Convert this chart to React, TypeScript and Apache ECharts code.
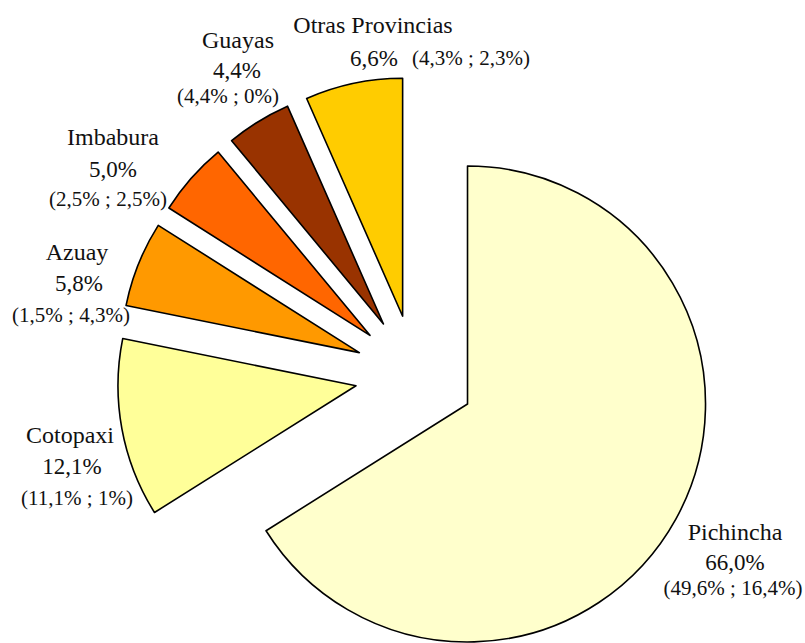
import React, { useEffect, useRef } from "react";
import * as echarts from "echarts";

const categories = ["Pichincha", "Cotopaxi", "Azuay", "Imbabura", "Guayas", "Otras Provincias"];
const shares = [66.0, 12.1, 5.8, 5.0, 4.4, 6.6];
const partA = [49.6, 11.1, 1.5, 2.5, 4.4, 4.3];
const partB = [16.4, 1, 4.3, 2.5, 0, 2.3];
const colors = ["#FFFFCC", "#FFFF99", "#FF9900", "#FF6600", "#993300", "#FFCC00"];

// label line positions (layout only): [nameX, nameY, pctX, pctY, parenX, parenY]
const labelPos: number[][] = [
  [735, 532, 735, 562, 733, 588],
  [70, 435, 72, 466, 77, 498],
  [77, 252, 79, 283, 71, 315],
  [113, 137, 113, 169, 108, 199],
  [238, 40, 237, 70, 228, 96],
  [373, 25, 374, 58, 471, 58],
];

const fmt1 = (v: number) => v.toFixed(1).replace(".", ",");
const fmtP = (v: number) => (Number.isInteger(v) ? String(v) : fmt1(v));

export default function App() {
  const ref = useRef<HTMLDivElement>(null);
  useEffect(() => {
    if (!ref.current) return;
    const chart = echarts.init(ref.current, null, { renderer: "svg" });
    const font = "'Liberation Serif', 'Times New Roman', serif";
    const data = categories.map((name, i) => ({
      name,
      value: shares[i],
      selected: true,
      itemStyle: { color: colors[i] },
    }));
    const texts: any[] = [];
    categories.forEach((name, i) => {
      const [nx, ny, px, py, sx, sy] = labelPos[i];
      const mk = (text: string, x: number, y: number, size: number) => ({
        type: "text",
        x,
        y,
        silent: true,
        style: {
          text,
          fill: "#111",
          font: `${size}px ${font}`,
          textAlign: "center",
          textVerticalAlign: "middle",
        },
      });
      texts.push(mk(name, nx, ny, 24));
      texts.push(mk(`${fmt1(shares[i])}%`, px, py, 23));
      texts.push(mk(`(${fmtP(partA[i])}% ; ${fmtP(partB[i])}%)`, sx, sy, 21));
    });
    chart.setOption({
      animation: false,
      backgroundColor: "#ffffff",
      series: [
        {
          type: "pie",
          center: [415, 375],
          radius: 238,
          startAngle: 90,
          clockwise: true,
          selectedMode: "multiple",
          selectedOffset: 60,
          avoidLabelOverlap: false,
          itemStyle: { borderColor: "#000", borderWidth: 1.6 },
          select: { itemStyle: { borderColor: "#000", borderWidth: 1.6 } },
          emphasis: { disabled: true },
          label: { show: false },
          labelLine: { show: false },
          data,
        },
      ],
      graphic: texts,
    });
    return () => chart.dispose();
  }, []);
  return (
    <div
      ref={ref}
      style={{ position: "fixed", left: 0, top: 0, width: 805, height: 643 }}
    />
  );
}
